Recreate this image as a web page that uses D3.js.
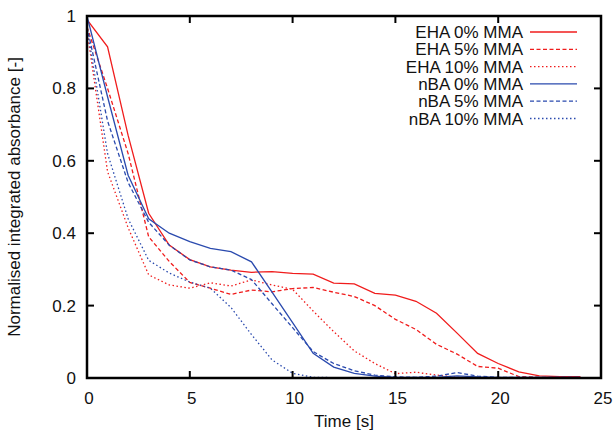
<!doctype html>
<html lang="en">
  <head>
    <meta charset="UTF-8" />
    <title>Normalised integrated absorbance</title>
    <script src="https://d3js.org/d3.v7.min.js"></script>
    <style>
      html, body { margin: 0; padding: 0; background: #fff; overflow: hidden; }
      text { font-family: "Liberation Sans", Arial, sans-serif; font-size: 17px; fill: #111; }
    </style>
  </head>
  <body>
    <svg id="chart" width="614" height="430"></svg>
    <script>
      // values, one sample per second
      const time = d3.range(0, 25);
      const eha0 = [0.99, 0.915, 0.67, 0.455, 0.367, 0.327, 0.307, 0.298, 0.292, 0.294, 0.289, 0.287, 0.262, 0.26, 0.234, 0.229, 0.212, 0.179, 0.124, 0.068, 0.04, 0.017, 0.006, 0.004, 0.004];
      const eha5 = [0.97, 0.8, 0.62, 0.39, 0.322, 0.264, 0.248, 0.231, 0.243, 0.238, 0.247, 0.25, 0.237, 0.225, 0.2, 0.162, 0.134, 0.093, 0.066, 0.032, 0.027, 0.004, 0.002];
      const eha10 = [0.96, 0.57, 0.415, 0.285, 0.257, 0.248, 0.263, 0.254, 0.271, 0.257, 0.245, 0.185, 0.128, 0.075, 0.04, 0.012, 0.016, 0.008, 0.002, 0.001];
      const nba0 = [1.0, 0.777, 0.56, 0.44, 0.4, 0.377, 0.358, 0.349, 0.321, 0.237, 0.153, 0.068, 0.03, 0.013, 0.005, 0.002, 0.002, 0.002, 0.006, 0.003, 0.002, 0.002, 0.002, 0.002, 0.002];
      const nba5 = [0.97, 0.71, 0.54, 0.43, 0.367, 0.326, 0.307, 0.298, 0.272, 0.205, 0.139, 0.073, 0.04, 0.02, 0.008, 0.003, 0.002, 0.005, 0.015, 0.005, 0.002, 0.002, 0.002, 0.002, 0.002];
      const nba10 = [0.97, 0.62, 0.44, 0.325, 0.29, 0.265, 0.248, 0.195, 0.12, 0.05, 0.013, 0.002, 0.001, 0.001, 0.001, 0.001, 0.001, 0.001, 0.001, 0.001, 0.001, 0.001, 0.001, 0.001, 0.001];

      const seriesNames = ["EHA 0% MMA", "EHA 5% MMA", "EHA 10% MMA", "nBA 0% MMA", "nBA 5% MMA", "nBA 10% MMA"];
      const seriesValues = [eha0, eha5, eha10, nba0, nba5, nba10];
      const xTicks = [0, 5, 10, 15, 20, 25];
      const yTicks = [0, 0.2, 0.4, 0.6, 0.8, 1];

      const red = "#f01c1c", blue = "#2a4aae";
      const colors = [red, red, red, blue, blue, blue];
      const dashes = [null, "4,2.5", "1.5,2.5", null, "4,2.5", "1.5,2.5"];

      const m = { left: 87, right: 601, top: 16, bottom: 378 };
      const svg = d3.select("#chart");

      const x = d3.scaleLinear().domain([0, 25]).range([m.left, m.right]);
      const y = d3.scaleLinear().domain([0, 1]).range([m.bottom, m.top]);

      const plot = svg.append("g");
      plot.append("clipPath").attr("id", "clip")
        .append("rect").attr("x", m.left).attr("y", m.top)
        .attr("width", m.right - m.left).attr("height", m.bottom - m.top);

      const line = d3.line().x((d, i) => x(time[i])).y(d => y(d));

      seriesValues.forEach((vals, k) => {
        plot.append("path")
          .attr("d", line(vals))
          .attr("clip-path", "url(#clip)")
          .attr("fill", "none")
          .attr("stroke", colors[k])
          .attr("stroke-width", 1.3)
          .attr("stroke-dasharray", dashes[k]);
      });

      // ticks on all four sides, pointing inward
      const tickLen = 7;
      const axes = svg.append("g").attr("stroke", "#000").attr("stroke-width", 2);
      xTicks.forEach(t => {
        axes.append("line").attr("x1", x(t)).attr("x2", x(t)).attr("y1", m.bottom).attr("y2", m.bottom - tickLen);
        axes.append("line").attr("x1", x(t)).attr("x2", x(t)).attr("y1", m.top).attr("y2", m.top + tickLen);
      });
      yTicks.forEach(t => {
        axes.append("line").attr("x1", m.left).attr("x2", m.left + tickLen).attr("y1", y(t)).attr("y2", y(t));
        axes.append("line").attr("x1", m.right).attr("x2", m.right - tickLen).attr("y1", y(t)).attr("y2", y(t));
      });
      svg.append("rect")
        .attr("x", m.left).attr("y", m.top).attr("width", m.right - m.left).attr("height", m.bottom - m.top)
        .attr("fill", "none").attr("stroke", "#000").attr("stroke-width", 2.5);

      svg.selectAll(".xlab").data(xTicks).enter().append("text")
        .attr("x", d => x(d) + 2).attr("y", m.bottom + 26)
        .attr("text-anchor", "middle").text(d => d);
      svg.selectAll(".ylab").data(yTicks).enter().append("text")
        .attr("x", m.left - 11).attr("y", d => y(d) + 6)
        .attr("text-anchor", "end").text(d => d);

      svg.append("text").attr("x", (m.left + m.right) / 2).attr("y", 427)
        .attr("text-anchor", "middle").text("Time [s]");
      svg.append("text")
        .attr("transform", `translate(20, ${(m.top + m.bottom) / 2}) rotate(-90)`)
        .attr("text-anchor", "middle").text("Normalised integrated absorbance [-]");

      // legend
      const legend = svg.append("g");
      seriesNames.forEach((name, k) => {
        const ly = 32 + k * 17.3;
        legend.append("text").attr("x", 523).attr("y", ly + 6)
          .attr("text-anchor", "end").text(name);
        legend.append("line").attr("x1", 530).attr("x2", 577).attr("y1", ly).attr("y2", ly)
          .attr("stroke", colors[k]).attr("stroke-width", 1.3).attr("stroke-dasharray", dashes[k]);
      });
    </script>
  </body>
</html>
